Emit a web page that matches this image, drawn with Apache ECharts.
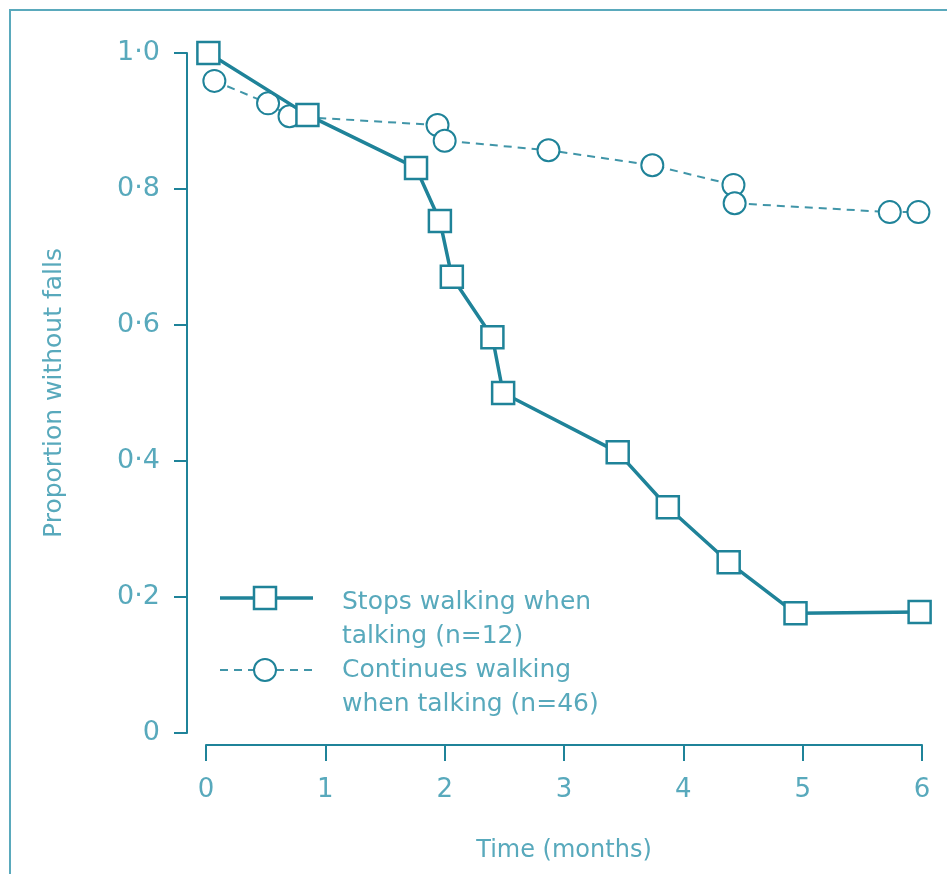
<!DOCTYPE html>
<html>
<head>
<meta charset="utf-8">
<script src="https://cdn.jsdelivr.net/npm/echarts@6/dist/echarts.min.js"></script>
<style>html,body{margin:0;padding:0;background:#fff;}#c{width:947px;height:874px;}</style>
</head>
<body>
<div id="c"></div>
<script>
const stopsX = [0.02, 0.85, 1.76, 1.96, 2.06, 2.40, 2.49, 3.45, 3.87, 4.38, 4.94, 5.98];
const stopsY = [1.0, 0.909, 0.831, 0.753, 0.671, 0.582, 0.50, 0.413, 0.332, 0.251, 0.176, 0.178];
const contX = [0.07, 0.52, 0.70, 1.94, 2.00, 2.87, 3.74, 4.42, 4.43, 5.73, 5.97];
const contY = [0.959, 0.926, 0.907, 0.894, 0.871, 0.857, 0.835, 0.806, 0.779, 0.766, 0.766];
const xTickLabels = ['0', '1', '2', '3', '4', '5', '6'];
const yTickLabels = ['0', '0·2', '0·4', '0·6', '0·8', '1·0'];
const seriesNames = ['Stops walking when\ntalking (n=12)', 'Continues walking\nwhen talking (n=46)'];

const LINE = '#1f8399';
const TEXT = '#58a9bc';
const FONT = '"DejaVu Sans", "Open Sans", sans-serif';

const chart = echarts.init(document.getElementById('c'), null, {renderer: 'canvas'});
const option = {
  animation: false,
  backgroundColor: '#fff',
  grid: {left: 206, right: 25, top: 53, bottom: 141, containLabel: false, outerBoundsMode: 'none'},
  xAxis: {
    type: 'value', min: 0, max: 6, interval: 1, offset: 12,
    name: 'Time (months)', nameLocation: 'middle', nameGap: 94,
    nameTextStyle: {color: TEXT, fontSize: 24, fontFamily: FONT},
    axisLine: {onZero: false, lineStyle: {color: LINE, width: 2}},
    axisTick: {length: 16, lineStyle: {color: LINE, width: 2}},
    axisLabel: {color: TEXT, fontSize: 26, fontFamily: FONT, margin: 32,
      formatter: v => xTickLabels[Math.round(v)]},
    splitLine: {show: false}
  },
  yAxis: {
    type: 'value', min: 0, max: 1, interval: 0.2, offset: 19,
    name: 'Proportion without falls', nameLocation: 'middle', nameGap: 120,
    nameTextStyle: {color: TEXT, fontSize: 25, fontFamily: FONT},
    axisLine: {show: true, onZero: false, lineStyle: {color: LINE, width: 2}},
    axisTick: {show: true, length: 13, lineStyle: {color: LINE, width: 2}},
    axisLabel: {color: TEXT, fontSize: 27, fontFamily: FONT, margin: 27,
      formatter: v => yTickLabels[Math.round(v / 0.2)]},
    splitLine: {show: false}
  },
  series: [
    {
      name: seriesNames[1], type: 'line',
      data: contX.map((x, i) => [x, contY[i]]),
      symbol: 'circle', symbolSize: 22,
      itemStyle: {color: '#fff', borderColor: LINE, borderWidth: 2},
      lineStyle: {color: LINE, width: 2, type: [8, 6], opacity: 0.85},
      z: 2
    },
    {
      name: seriesNames[0], type: 'line',
      data: stopsX.map((x, i) => [x, stopsY[i]]),
      symbol: 'rect', symbolSize: 22,
      itemStyle: {color: '#fff', borderColor: LINE, borderWidth: 2.5},
      lineStyle: {color: LINE, width: 3.5},
      z: 3
    }
  ],
  graphic: [
    {type: 'rect', x: 10, y: 10, shape: {x: 0, y: 0, width: 1200, height: 1200},
      style: {fill: null, stroke: '#5aa9bc', lineWidth: 2}, silent: true},
    {type: 'line', shape: {x1: 220, y1: 598, x2: 313, y2: 598}, style: {stroke: LINE, lineWidth: 3.5}},
    {type: 'rect', shape: {x: 254, y: 587, width: 22, height: 22}, style: {fill: '#fff', stroke: LINE, lineWidth: 2.5}},
    {type: 'line', shape: {x1: 220, y1: 670, x2: 313, y2: 670}, style: {stroke: LINE, lineWidth: 2, lineDash: [8, 6], opacity: 0.85}},
    {type: 'circle', shape: {cx: 265, cy: 670, r: 11}, style: {fill: '#fff', stroke: LINE, lineWidth: 2}},
    {type: 'text', x: 342, y: 585, style: {text: seriesNames[0], fill: TEXT, font: '25px ' + FONT, lineHeight: 34}},
    {type: 'text', x: 342, y: 653, style: {text: seriesNames[1], fill: TEXT, font: '25px ' + FONT, lineHeight: 34}}
  ]
};
chart.setOption(option);
</script>
</body>
</html>
